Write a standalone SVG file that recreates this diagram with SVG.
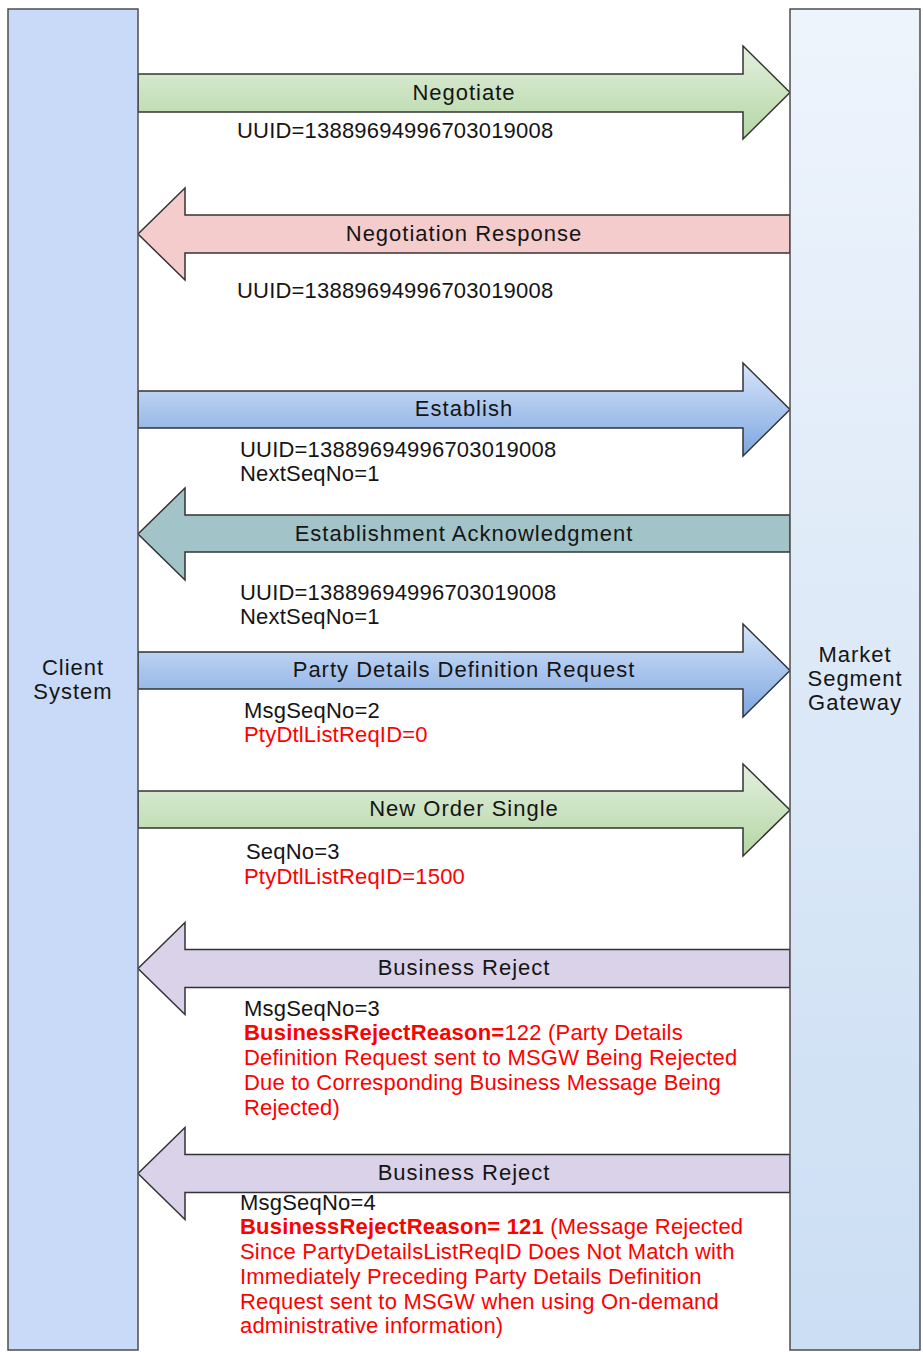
<svg xmlns="http://www.w3.org/2000/svg" width="923" height="1352" viewBox="0 0 923 1352">
<defs>
<linearGradient id="gGreen" x1="0" y1="0" x2="0" y2="1"><stop offset="0" stop-color="#e3f0dd"/><stop offset="1" stop-color="#b4d6a5"/></linearGradient>
<linearGradient id="gBlue" x1="0" y1="0" x2="0" y2="1"><stop offset="0" stop-color="#d6e5fa"/><stop offset="1" stop-color="#7ea6e0"/></linearGradient>
<linearGradient id="gGw" x1="0" y1="0" x2="0" y2="1"><stop offset="0" stop-color="#eef4fc"/><stop offset="1" stop-color="#cbdef3"/></linearGradient>
<style>
.life{stroke:#4d4d4d;stroke-width:1.5}
.arr{stroke:#333333;stroke-width:1.5;stroke-linejoin:miter}
text{font-family:"Liberation Sans",Arial,sans-serif;font-size:22px}
.lbl{fill:#151515;letter-spacing:1px;text-anchor:middle}
.t{fill:#151515;letter-spacing:0.2px}
.r{fill:#ff0000;letter-spacing:0.2px}
.b{font-weight:bold}
</style>
</defs>
<g id="connectors">
<g id="negotiate">
<polygon class="arr" fill="url(#gGreen)" points="138,74 743,74 743,46 790,92.5 743,139 743,112 138,112"/>
<text class="lbl" x="464" y="100">Negotiate</text>
</g>
<g id="negotiation-response">
<polygon class="arr" fill="#f4cccc" points="790,215 185,215 185,188 138,234 185,280 185,253 790,253"/>
<text class="lbl" x="464" y="241">Negotiation Response</text>
</g>
<g id="establish">
<polygon class="arr" fill="url(#gBlue)" points="138,391 743,391 743,363 790,409.5 743,456 743,428 138,428"/>
<text class="lbl" x="464" y="416">Establish</text>
</g>
<g id="establishment-ack">
<polygon class="arr" fill="#a2c4c9" points="790,515 185,515 185,488 138,534 185,580 185,552 790,552"/>
<text class="lbl" x="464" y="541">Establishment Acknowledgment</text>
</g>
<g id="party-details-request">
<polygon class="arr" fill="url(#gBlue)" points="138,652 743,652 743,624 790,670.5 743,717 743,689 138,689"/>
<text class="lbl" x="464" y="677">Party Details Definition Request</text>
</g>
<g id="new-order-single">
<polygon class="arr" fill="url(#gGreen)" points="138,791 743,791 743,764 790,810 743,856 743,828 138,828"/>
<text class="lbl" x="464" y="816">New Order Single</text>
</g>
<g id="business-reject-1">
<polygon class="arr" fill="#d9d2e9" points="790,949.5 185,949.5 185,922.5 138,968.5 185,1014.5 185,987.5 790,987.5"/>
<text class="lbl" x="464" y="975">Business Reject</text>
</g>
<g id="business-reject-2">
<polygon class="arr" fill="#d9d2e9" points="790,1154.5 185,1154.5 185,1127.5 138,1173.5 185,1219.5 185,1192.5 790,1192.5"/>
<text class="lbl" x="464" y="1180">Business Reject</text>
</g>
</g>
<g id="client-system">
<rect class="life" x="8" y="9" width="130" height="1341" fill="#c9daf8"/>
<text class="lbl" x="73" y="675">Client</text>
<text class="lbl" x="73" y="699">System</text>
</g>
<g id="market-segment-gateway">
<rect class="life" x="790" y="9" width="130" height="1341" fill="url(#gGw)"/>
<text class="lbl" x="855" y="662">Market</text>
<text class="lbl" x="855" y="686">Segment</text>
<text class="lbl" x="855" y="710">Gateway</text>
</g>
<g id="texts">
<text class="t" x="237" y="138">UUID=13889694996703019008</text>
<text class="t" x="237" y="298">UUID=13889694996703019008</text>
<text class="t" x="240" y="457">UUID=13889694996703019008</text>
<text class="t" x="240" y="481">NextSeqNo=1</text>
<text class="t" x="240" y="600">UUID=13889694996703019008</text>
<text class="t" x="240" y="624">NextSeqNo=1</text>
<text class="t" x="244" y="718">MsgSeqNo=2</text>
<text class="r" x="244" y="742">PtyDtlListReqID=0</text>
<text class="t" x="246" y="859">SeqNo=3</text>
<text class="r" x="244" y="884">PtyDtlListReqID=1500</text>
<text class="t" x="244" y="1016">MsgSeqNo=3</text>
<text class="r" x="244" y="1040"><tspan class="b">BusinessRejectReason=</tspan>122 (Party Details</text>
<text class="r" x="244" y="1065">Definition Request sent to MSGW Being Rejected</text>
<text class="r" x="244" y="1090">Due to Corresponding Business Message Being</text>
<text class="r" x="244" y="1115">Rejected)</text>
<text class="t" x="240" y="1210">MsgSeqNo=4</text>
<text class="r" x="240" y="1234"><tspan class="b">BusinessRejectReason= 121</tspan> (Message Rejected</text>
<text class="r" x="240" y="1259">Since PartyDetailsListReqID Does Not Match with</text>
<text class="r" x="240" y="1284">Immediately Preceding Party Details Definition</text>
<text class="r" x="240" y="1309">Request sent to MSGW when using On-demand</text>
<text class="r" x="240" y="1333">administrative information)</text>
</g>
</svg>
